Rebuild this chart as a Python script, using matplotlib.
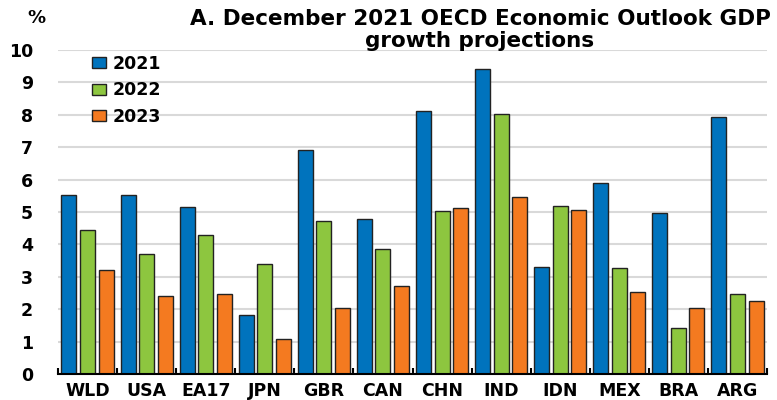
import matplotlib
matplotlib.use("Agg")
import matplotlib.pyplot as plt
import numpy as np
from matplotlib.patches import Patch

plt.rcParams['font.family'] = ['DejaVu Sans']
plt.rcParams['font.weight'] = 'bold'

categories = ["WLD", "USA", "EA17", "JPN", "GBR", "CAN", "CHN", "IND", "IDN", "MEX", "BRA", "ARG"]
y2021 = [5.52, 5.52, 5.14, 1.81, 6.91, 4.79, 8.13, 9.41, 3.29, 5.88, 4.96, 7.94]
y2022 = [4.44, 3.71, 4.30, 3.40, 4.73, 3.85, 5.03, 8.02, 5.17, 3.26, 1.42, 2.46]
y2023 = [3.22, 2.42, 2.47, 1.07, 2.05, 2.73, 5.11, 5.46, 5.05, 2.53, 2.04, 2.25]
series_labels = ["2021", "2022", "2023"]
yticks = list(range(0, 11))

colors = ["#0073BD", "#8DC63F", "#F47A20"]

fig = plt.figure(figsize=(7.77, 4.00), dpi=100)
ax = fig.add_axes([58/777, 26/400, (767-58)/777, (374-50)/400])

x = np.arange(len(categories))
w = 0.254
off = 0.315
for k, (vals, c) in enumerate(zip([y2021, y2022, y2023], colors)):
    ax.bar(x + (k-1)*off, vals, width=w, color=c, edgecolor="#222222", linewidth=1.0, zorder=3)

ax.set_xlim(-0.5, len(categories)-0.5)
ax.set_ylim(0, 10)
ax.set_yticks(yticks)
ax.set_yticklabels([str(t) for t in yticks], fontsize=12.5, fontweight='bold')
ax.set_xticks(x)
ax.set_xticklabels(categories, fontsize=12.5, fontweight='bold')
ax.tick_params(axis='y', length=0, pad=18)
ax.tick_params(axis='x', which='major', length=0, pad=6)
ax.set_xticks(np.arange(-0.5, len(categories), 1.0), minor=True)
ax.tick_params(axis='x', which='minor', direction='in', length=4, width=1.5, color='black')

ax.grid(axis='y', color='#d9d9d9', linewidth=1.5, zorder=0)
ax.set_axisbelow(True)
for s in ['left', 'right', 'top']:
    ax.spines[s].set_visible(False)
ax.spines['bottom'].set_linewidth(1.5)
ax.spines['bottom'].set_color('black')
ax.spines['bottom'].set_zorder(4)

handles = [Patch(facecolor=c, edgecolor="#222222", linewidth=1.0) for c in colors]
leg = ax.legend(handles, series_labels, loc='upper left', bbox_to_anchor=(83/777, 1-46/400),
                bbox_transform=fig.transFigure, frameon=False, borderpad=0,
                handlelength=0.8, handleheight=0.6, handletextpad=0.4, labelspacing=0.5,
                prop={'size': 12.5, 'weight': 'bold'})

fig.text(480/777, 1-30/400, "A. December 2021 OECD Economic Outlook GDP\ngrowth projections",
         ha='center', va='center', fontsize=15.5, fontweight='bold', linespacing=1.08)
fig.text(36/777, 1-18/400, "%", ha='center', va='center', fontsize=13, fontweight='bold')

fig.savefig("out.png", dpi=100)
